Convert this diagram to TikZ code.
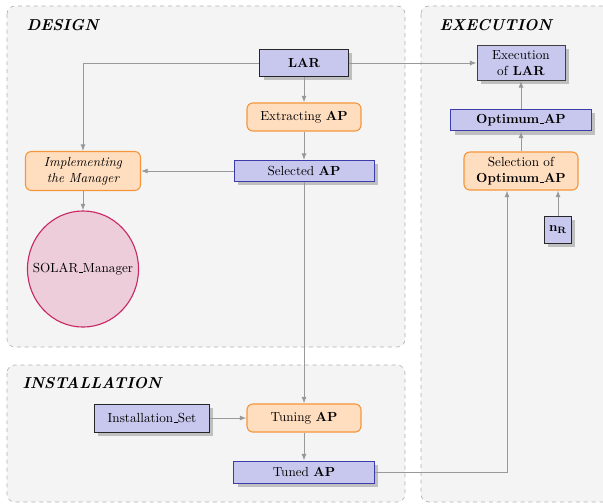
\documentclass[tikz,border=0pt]{standalone}
\usepackage[dvipsnames]{xcolor}
\usepackage{tikz}
\usetikzlibrary{shapes.geometric, shadows, arrows.meta, calc}

\definecolor{boxfill}{RGB}{200,200,238}
\definecolor{boxline}{RGB}{60,60,170}
\definecolor{procfill}{RGB}{255,222,192}
\definecolor{procline}{RGB}{245,150,60}
\definecolor{mgrfill}{RGB}{238,205,218}
\definecolor{mgrline}{RGB}{200,40,100}
\definecolor{panelfill}{RGB}{244,244,244}

\newcommand{\ubar}{\leavevmode\kern.06em\vbox{\hrule width.3em}}

\tikzset{
  panel/.style={draw=black!30, dashed, fill=panelfill, rounded corners=6pt, line width=0.5pt},
  paneltitle/.style={anchor=west, font=\large\bfseries\itshape},
  shade/.style={drop shadow={shadow xshift=3pt, shadow yshift=-3pt, fill=black!25, opacity=1}},
  datum/.style={draw=boxline, fill=boxfill, line width=0.75pt, inner sep=1pt, shade},
  inputbox/.style={draw=black!85, fill=boxfill, line width=0.75pt, inner sep=1pt, shade},
  task/.style={draw=procline, fill=procfill, rounded corners=4.5pt, line width=0.85pt, inner sep=1pt, align=center},
  link/.style={draw=black!40, line width=0.75pt, -{Latex[length=5pt, width=3.8pt]}},
}

\begin{document}
\begin{tikzpicture}[x=0.76pt, y=-0.76pt]
    \useasboundingbox (0,0) rectangle (603,503);

    \draw[panel] (7,6) rectangle (405,347);
    \draw[panel] (7,365) rectangle (405,502);
    \draw[panel] (421,6) rectangle (625,502);

    \node[paneltitle] (tdesign) at (22,25) {DESIGN};
    \node[paneltitle] (tinstall) at (18,383) {INSTALLATION};
    \node[paneltitle] (texec) at (435,25) {EXECUTION};

    \node[inputbox, minimum width=66.9pt, minimum height=20.5pt] (lar) at (304,63) {\textbf{LAR}};
    \node[task, minimum width=86.6pt, minimum height=21.3pt] (extract) at (304,117) {Extracting \textbf{AP}};
    \node[datum, minimum width=106.4pt, minimum height=16pt] (selected) at (304,171) {Selected \textbf{AP}};
    \node[task, minimum width=87.4pt, minimum height=29.6pt, font=\itshape] (impl) at (83,171) {Implementing\\the Manager};
    \node[ellipse, draw=mgrline, fill=mgrfill, line width=0.85pt, minimum width=84.4pt, minimum height=88.2pt, inner sep=0pt] (solar) at (83,269) {\makebox[0pt]{SOLAR\ubar Manager}};

    \node[inputbox, draw=black!75, minimum width=66.9pt, minimum height=26.6pt, align=center] (execlar) at (521,63) {Execution\\of \textbf{LAR}};
    \node[datum, minimum width=107pt, minimum height=16.7pt] (optimum) at (521,120) {\textbf{Optimum\ubar AP}};
    \node[task, minimum width=86.6pt, minimum height=28.9pt] (selopt) at (521,171) {Selection of\\\textbf{Optimum\ubar AP}};
    \node[inputbox, minimum width=20.5pt, minimum height=20.5pt] (nr) at (558,230) {$\mathbf{n_R}$};

    \node[inputbox, minimum width=87.4pt, minimum height=21.3pt] (instset) at (152,418) {Installation\ubar Set};
    \node[task, minimum width=86.6pt, minimum height=21.3pt] (tuning) at (304,418) {Tuning \textbf{AP}};
    \node[datum, minimum width=107pt, minimum height=16.7pt] (tuned) at (304,472) {Tuned \textbf{AP}};

    \coordinate (selin) at ($(selopt.south)+(-14,0)$);

    \draw[link] (lar) -- (extract);
    \draw[link] (extract) -- (selected);
    \draw[link] (lar.west) -| (impl.north);
    \draw[link] (lar.east) -- (execlar.west);
    \draw[link] (selected.west) -- (impl.east);
    \draw[link] (impl) -- (solar);
    \draw[link] (selected) -- (tuning);
    \draw[link] (instset) -- (tuning);
    \draw[link] (tuning) -- (tuned);
    \draw[link] (tuned.east) -| (selin);
    \draw[link] (nr.north) -- (nr.north |- selopt.south);
    \draw[link] (selopt) -- (optimum);
    \draw[link] (optimum) -- (execlar);
\end{tikzpicture}
\end{document}
